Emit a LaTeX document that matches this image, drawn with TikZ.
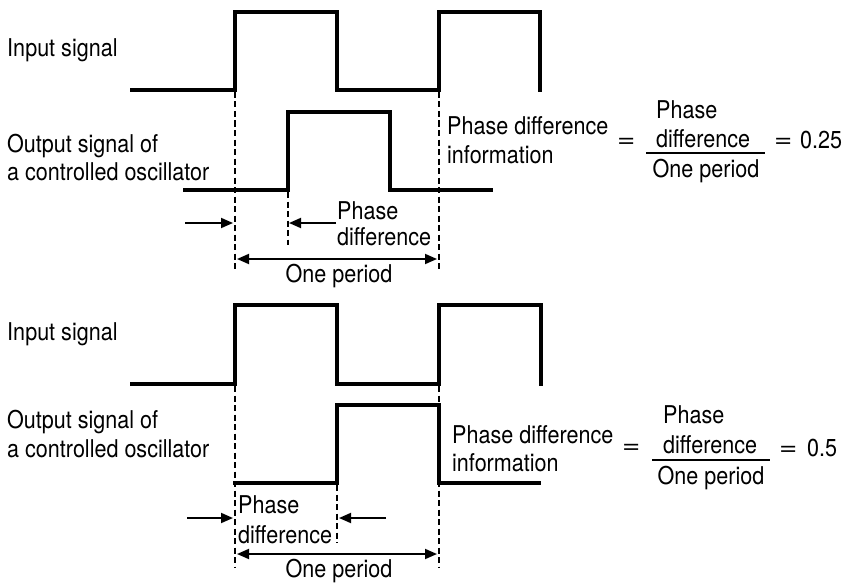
\documentclass[tikz,border=0pt]{standalone}
\usepackage{fontspec}
\usepackage{graphicx}
\newfontfamily\lblfamily{TeX Gyre Heros}[FakeStretch=0.88]
\newcommand\lblsize{\lblfamily\fontsize{24.5}{28}\selectfont}
\newcommand\wideeq{\scalebox{1.45}[1]{=}}
\usetikzlibrary{arrows.meta}

\begin{document}
\begin{tikzpicture}[x=1pt,y=-1pt,
  wave/.style={line width=3.3pt, line join=miter},
  guide/.style={line width=1.3pt, dash pattern=on 6pt off 3.5pt},
  pointer/.style={line width=1.8pt, -{Triangle[length=12pt,width=10pt]}},
  span/.style={line width=1.8pt, {Triangle[length=12pt,width=10pt]}-{Triangle[length=12pt,width=10pt]}},
  fracbar/.style={line width=2pt},
  lbl/.style={anchor=base west, inner sep=0pt, font=\lblsize},
  clbl/.style={anchor=base, inner sep=0pt, font=\lblsize}]
\useasboundingbox (0,0) rectangle (845,583);

% ---------- upper diagram: phase difference of a quarter period ----------
\node[lbl] (inA) at (7,57) {Input signal};
\node[lbl] (outA1) at (7,152) {Output signal of};
\node[lbl] (outA2) at (7,180) {a controlled oscillator};

\draw[wave] (130,90) -- (235,90) -- (235,12) -- (337,12) -- (337,90)
  -- (439,90) -- (439,12) -- (540,12) -- (540,92);
\draw[wave] (183,190) -- (288,190) -- (288,112) -- (390,112) -- (390,190) -- (493,190);

\draw[guide] (235,92) -- (235,272);
\draw[guide] (288,192) -- (288,245);
\draw[guide] (439,92) -- (439,272);

\coordinate (pA1s) at (185,223);
\coordinate (pA1e) at (233,223);
\coordinate (pA2s) at (336,223);
\coordinate (pA2e) at (289,223);
\coordinate (spA1) at (237,259);
\coordinate (spA2) at (437,259);
\draw[pointer] (pA1s) -- (pA1e);
\draw[pointer] (pA2s) -- (pA2e);
\draw[span] (spA1) -- (spA2);

\node[lbl] (pdA1) at (337,219) {Phase};
\node[lbl] (pdA2) at (337,245) {difference};
\node[clbl] (opA) at (339,282) {One period};

\node[lbl] (infA1) at (447,135) {Phase difference};
\node[lbl] (infA2) at (447,163) {information};
\node[lbl] (eqA1) at (617,147) {\wideeq};
\node[lbl] (numA1) at (656,118) {Phase};
\node[lbl] (numA2) at (656,147) {difference};
\coordinate (fbA1) at (646,153);
\coordinate (fbA2) at (765,153);
\draw[fracbar] (fbA1) -- (fbA2);
\node[clbl] (denA) at (706,177) {One period};
\node[lbl] (eqA2) at (774,147) {\wideeq};
\node[lbl] (valA) at (800,148) {0.25};

% ---------- lower diagram: phase difference of half a period ----------
\node[lbl] (inB) at (7,340) {Input signal};
\node[lbl] (outB1) at (7,428) {Output signal of};
\node[lbl] (outB2) at (7,457) {a controlled oscillator};

\draw[wave] (130,384) -- (235,384) -- (235,305) -- (337,305) -- (337,384)
  -- (439,384) -- (439,305) -- (541,305) -- (541,386);
\draw[wave] (233,483) -- (337,483) -- (337,405) -- (439,405) -- (439,483) -- (541,483);

\draw[guide] (235,386) -- (235,567);
\draw[guide] (337,485) -- (337,543);
\draw[guide] (439,386) -- (439,567);

\coordinate (pB1s) at (187,518);
\coordinate (pB1e) at (233,518);
\coordinate (pB2s) at (386,518);
\coordinate (pB2e) at (339,518);
\coordinate (spB1) at (237,554);
\coordinate (spB2) at (437,554);
\draw[pointer] (pB1s) -- (pB1e);
\draw[pointer] (pB2s) -- (pB2e);
\draw[span] (spB1) -- (spB2);

\node[lbl] (pdB1) at (238,513) {Phase};
\node[lbl] (pdB2) at (238,543) {difference};
\node[clbl] (opB) at (339,577) {One period};

\node[lbl] (infB1) at (452,443) {Phase difference};
\node[lbl] (infB2) at (452,471) {information};
\node[lbl] (eqB1) at (622,453) {\wideeq};
\node[lbl] (numB1) at (663,423) {Phase};
\node[lbl] (numB2) at (663,453) {difference};
\coordinate (fbB1) at (652,460);
\coordinate (fbB2) at (770,460);
\draw[fracbar] (fbB1) -- (fbB2);
\node[clbl] (denB) at (711,484) {One period};
\node[lbl] (eqB2) at (779,455) {\wideeq};
\node[lbl] (valB) at (807,456) {0.5};
\end{tikzpicture}
\end{document}
